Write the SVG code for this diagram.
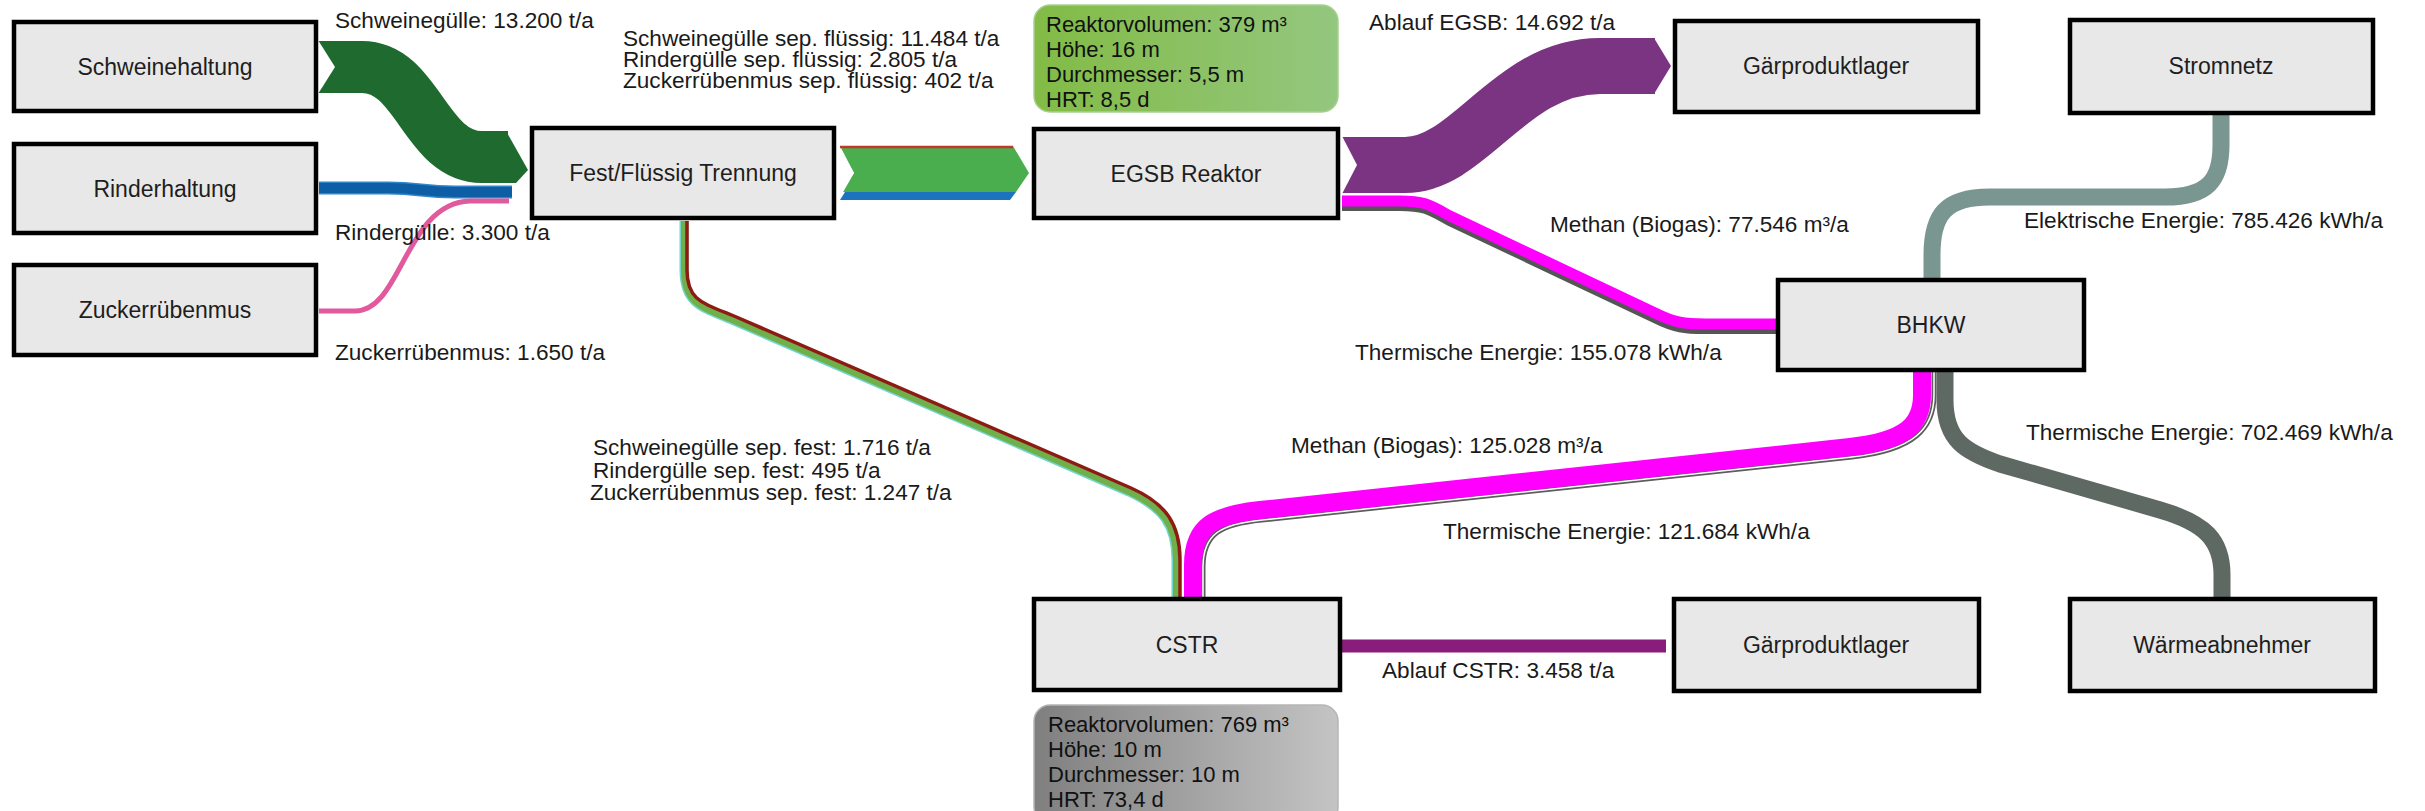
<svg xmlns="http://www.w3.org/2000/svg" width="2425" height="811" viewBox="0 0 2425 811">
<defs>
<style>
.node rect.box{fill:#e8e8e8;stroke:#000;stroke-width:4.5}
.nl{font-family:"Liberation Sans",Arial,sans-serif;font-size:23px;fill:#1e1e1e;text-anchor:middle}
.fl{font-family:"Liberation Sans",Arial,sans-serif;font-size:22.6px;fill:#1a1a1a}
.info{font-family:"Liberation Sans",Arial,sans-serif;font-size:22px;fill:#111}
.flow{fill:none;stroke-linecap:butt;stroke-linejoin:round}
</style>
<linearGradient id="gGreen" x1="0" y1="0" x2="1" y2="0">
<stop offset="0" stop-color="#82bb45"/>
<stop offset="1" stop-color="#94c77f"/>
</linearGradient>
<linearGradient id="gGray" x1="0" y1="0" x2="1" y2="0">
<stop offset="0" stop-color="#7f7f7f"/>
<stop offset="1" stop-color="#c4c4c4"/>
</linearGradient>
</defs>
<rect x="0" y="0" width="2425" height="811" fill="#ffffff"/>

<g id="connectors">
<!-- Schweinegülle -->
<path class="flow" d="M318,67 L362,67 C418,67 425,157 482,157 L508,157" stroke="#1f6a2f" stroke-width="52"/>
<polygon points="506,131 528,170 516,183 506,183" fill="#1f6a2f"/>
<polygon points="318,40 335,67 318,94" fill="#fff"/>
<!-- Rindergülle -->
<path class="flow" d="M319,188 L388,188 C420,188 422,192 455,192 L512,192" stroke="#2f86c8" stroke-width="13"/>
<path class="flow" d="M319,188 L388,188 C420,188 422,192 455,192 L512,192" stroke="#0e5ea6" stroke-width="10"/>
<!-- Zuckerrübenmus -->
<path class="flow" d="M319,311 L355,311 C402,311 405,203 470,201 L509,201" stroke="#e05a9d" stroke-width="5"/>
<!-- Fest -> EGSB -->
<polygon points="840,146 1013,146 1029,173 1016,192 840,192 854,173" fill="#4aae4e"/>
<polygon points="840,192 1016,192 1010,200 840,200 845,192" fill="#1c75bc"/>
<line x1="840" y1="147" x2="1013" y2="147" stroke="#c0392b" stroke-width="2.5"/>
<polygon points="838,145 854,173 838,201" fill="#fff"/>
<!-- Fest -> CSTR (solid) -->
<path class="flow" d="M684,221 L684,270 C684,302 699,307 732,320 L1129,492 C1163,508 1176,525 1176,560 L1176,597" stroke="#72d4ce" stroke-width="9"/>
<path class="flow" d="M684,221 L684,270 C684,302 699,307 732,320 L1129,492 C1163,508 1176,525 1176,560 L1176,597" stroke="#6fb04a" stroke-width="6"/>
<path class="flow" d="M687,221 L687,270 C687,300 702,303 734,316 L1131,488 C1167,504 1180,525 1180,560 L1180,597" stroke="#8e1b12" stroke-width="3.5"/>
<!-- EGSB -> Gärproduktlager -->
<path class="flow" d="M1342,165 L1405,165 C1470,165 1510,66 1600,66 L1655,66" stroke="#7a3482" stroke-width="56"/>
<polygon points="1654,38 1671,66 1654,94" fill="#7a3482"/>
<polygon points="1342,136 1357,165 1342,194" fill="#fff"/>
<!-- EGSB -> BHKW methane + thermal -->
<path class="flow" d="M1342,205 L1400,205 C1425,205 1430,209 1450,220 L1655,317 C1675,327 1685,328 1705,328 L1777,328" stroke="#555" stroke-width="12"/>
<path class="flow" d="M1342,201 L1400,201 C1425,201 1430,205 1450,216 L1655,313 C1675,323 1685,324 1705,324 L1777,324" stroke="#ff00ff" stroke-width="11"/>
<!-- BHKW -> Stromnetz -->
<path class="flow" d="M1932,279 L1932,255 C1932,215 1945,197 1990,197 L2165,197 C2208,197 2221,180 2221,145 L2221,114" stroke="#7a9691" stroke-width="17"/>
<!-- CSTR <-> BHKW -->
<path class="flow" d="M1203,597 L1203,567 C1203,533 1222,524 1262,520 L1852,457 C1915,450 1934,428 1934,395 L1934,372" stroke="#5d5d5d" stroke-width="5"/>
<path class="flow" d="M1203,597 L1203,567 C1203,533 1222,524 1262,520 L1852,457 C1915,450 1934,428 1934,395 L1934,372" stroke="#fff" stroke-width="1.5"/>
<path class="flow" d="M1193,597 L1193,565 C1193,525 1215,515 1260,510 L1850,447 C1905,441 1922,425 1922,395 L1922,372" stroke="#ff00ff" stroke-width="18"/>
<!-- BHKW -> Wärmeabnehmer -->
<path class="flow" d="M1945,372 L1945,400 C1945,440 1965,452 2000,464 L2160,510 C2205,523 2222,540 2222,575 L2222,597" stroke="#5e6964" stroke-width="17"/>
<!-- CSTR -> Gärproduktlager -->
<path class="flow" d="M1342,646 L1666,646" stroke="#8a1c7b" stroke-width="13" stroke-linecap="round"/>
</g>

<g id="n-schweinehaltung" class="node"><rect class="box" x="14" y="22" width="302" height="89"/><text class="nl" x="165" y="75">Schweinehaltung</text></g>
<g id="n-rinderhaltung" class="node"><rect class="box" x="14" y="144" width="302" height="89"/><text class="nl" x="165" y="197">Rinderhaltung</text></g>
<g id="n-zuckerruebenmus" class="node"><rect class="box" x="14" y="265" width="302" height="90"/><text class="nl" x="165" y="318">Zuckerrübenmus</text></g>
<g id="n-fest" class="node"><rect class="box" x="532" y="128" width="302" height="90"/><text class="nl" x="683" y="181">Fest/Flüssig Trennung</text></g>
<g id="n-egsb" class="node"><rect class="box" x="1034" y="129" width="304" height="89"/><text class="nl" x="1186" y="182">EGSB Reaktor</text></g>
<g id="n-gaer1" class="node"><rect class="box" x="1675" y="21" width="303" height="91"/><text class="nl" x="1826" y="74">Gärproduktlager</text></g>
<g id="n-stromnetz" class="node"><rect class="box" x="2070" y="20" width="303" height="93"/><text class="nl" x="2221" y="74">Stromnetz</text></g>
<g id="n-bhkw" class="node"><rect class="box" x="1778" y="280" width="306" height="90"/><text class="nl" x="1931" y="333">BHKW</text></g>
<g id="n-cstr" class="node"><rect class="box" x="1034" y="599" width="306" height="91"/><text class="nl" x="1187" y="653">CSTR</text></g>
<g id="n-gaer2" class="node"><rect class="box" x="1674" y="599" width="305" height="92"/><text class="nl" x="1826" y="653">Gärproduktlager</text></g>
<g id="n-waerme" class="node"><rect class="box" x="2070" y="599" width="305" height="92"/><text class="nl" x="2222" y="653">Wärmeabnehmer</text></g>

<g id="info-egsb">
<rect x="1034" y="5" width="304" height="107" rx="16" fill="url(#gGreen)" stroke="#a9cf94" stroke-width="1.5"/>
<text class="info" x="1046" y="32">Reaktorvolumen: 379 m³</text>
<text class="info" x="1046" y="57">Höhe: 16 m</text>
<text class="info" x="1046" y="82">Durchmesser: 5,5 m</text>
<text class="info" x="1046" y="107">HRT: 8,5 d</text>
</g>
<g id="info-cstr">
<rect x="1034" y="705" width="304" height="118" rx="16" fill="url(#gGray)" stroke="#b5b5b5" stroke-width="1.5"/>
<text class="info" x="1048" y="732">Reaktorvolumen: 769 m³</text>
<text class="info" x="1048" y="757">Höhe: 10 m</text>
<text class="info" x="1048" y="782">Durchmesser: 10 m</text>
<text class="info" x="1048" y="807">HRT: 73,4 d</text>
</g>

<g id="labels">
<text class="fl" x="335" y="28">Schweinegülle: 13.200 t/a</text>
<text class="fl" x="335" y="240">Rindergülle: 3.300 t/a</text>
<text class="fl" x="335" y="360">Zuckerrübenmus: 1.650 t/a</text>
<text class="fl" x="623" y="46">Schweinegülle sep. flüssig: 11.484 t/a</text>
<text class="fl" x="623" y="67">Rindergülle sep. flüssig: 2.805 t/a</text>
<text class="fl" x="623" y="88">Zuckerrübenmus sep. flüssig: 402 t/a</text>
<text class="fl" x="593" y="455">Schweinegülle sep. fest: 1.716 t/a</text>
<text class="fl" x="593" y="478">Rindergülle sep. fest: 495 t/a</text>
<text class="fl" x="590" y="500">Zuckerrübenmus sep. fest: 1.247 t/a</text>
<text class="fl" x="1369" y="30">Ablauf EGSB: 14.692 t/a</text>
<text class="fl" x="1550" y="232">Methan (Biogas): 77.546 m³/a</text>
<text class="fl" x="1355" y="360">Thermische Energie: 155.078 kWh/a</text>
<text class="fl" x="2024" y="228">Elektrische Energie: 785.426 kWh/a</text>
<text class="fl" x="2026" y="440">Thermische Energie: 702.469 kWh/a</text>
<text class="fl" x="1291" y="453">Methan (Biogas): 125.028 m³/a</text>
<text class="fl" x="1443" y="539">Thermische Energie: 121.684 kWh/a</text>
<text class="fl" x="1382" y="678">Ablauf CSTR: 3.458 t/a</text>
</g>
</svg>
